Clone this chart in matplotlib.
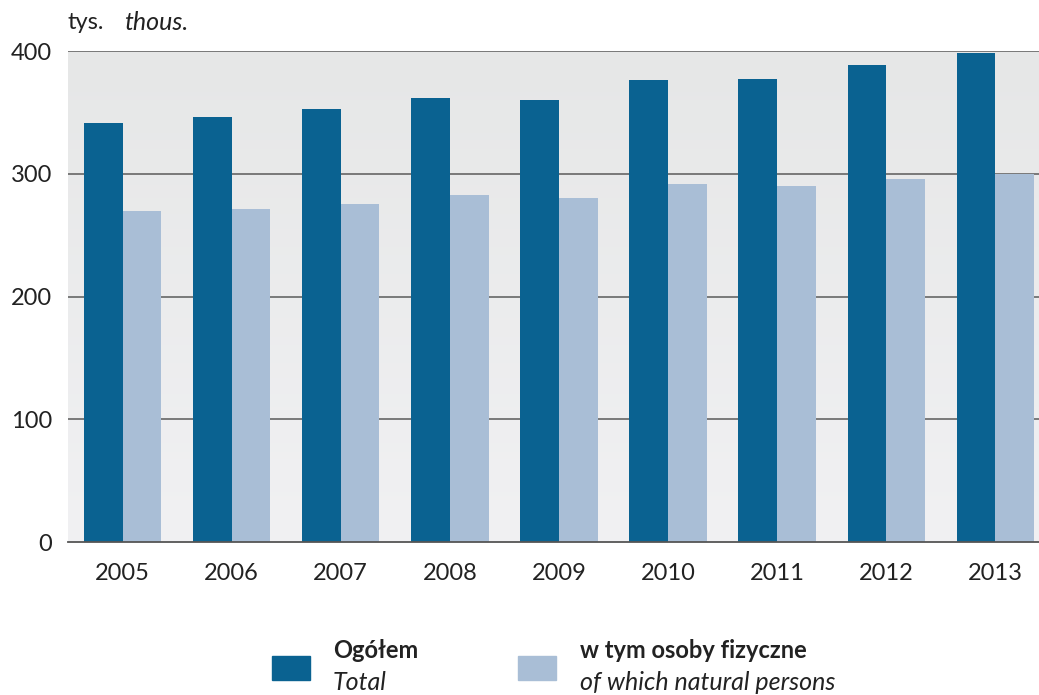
import numpy as np
import matplotlib.pyplot as plt
from matplotlib.patches import Rectangle

plt.rcParams['font.family'] = ['Lato', 'DejaVu Sans']

years = ['2005', '2006', '2007', '2008', '2009', '2010', '2011', '2012', '2013']
total = [341, 346, 353, 362, 360, 376, 377, 389, 398]
natural = [270, 271, 275, 283, 280, 292, 290, 296, 300]

dark = '#0a6291'
light = '#a9bed6'
txt = '#222222'

fig = plt.figure(figsize=(10.39, 6.95), dpi=100)
ax = fig.add_axes([0.0654, 0.2201, 0.9346, 0.7065])

x = np.arange(len(years))
w = 0.355
ax.set_xlim(-0.5, 8.4)
ax.set_ylim(0, 400)

# gradient background
grad = np.linspace(0, 1, 256).reshape(-1, 1)
ax.imshow(grad, extent=(-0.5, 8.4, 0, 400), aspect='auto', origin='lower',
          cmap=plt.matplotlib.colors.LinearSegmentedColormap.from_list('bg', ['#f1f1f3', '#e6e7e7']),
          zorder=0)

for yv in [100, 200, 300, 400]:
    ax.axhline(yv, color='#707070', lw=1.3, zorder=1)

ax.bar(x - w / 2, total, w, color=dark, zorder=2)
ax.bar(x + w / 2, natural, w, color=light, zorder=2)

for s in ['top', 'right', 'left']:
    ax.spines[s].set_visible(False)
ax.spines['bottom'].set_color('#555555')
ax.spines['bottom'].set_linewidth(1.3)

ax.set_xticks(x)
ax.set_xticklabels(years)
ax.set_yticks([0, 100, 200, 300, 400])
ax.tick_params(length=0, labelsize=17, colors=txt)
ax.tick_params(axis='x', pad=15)
ax.tick_params(axis='y', pad=11.5)

fig.text(0.0654, 0.968, 'tys.', fontsize=17, color=txt, va='center')
fig.text(124 / 1039, 0.968, 'thous.', fontsize=18, color=txt, va='center', style='italic')

# legend
fig.add_artist(Rectangle((272 / 1039, 1 - 680 / 695), 38 / 1039, 24 / 695,
                         transform=fig.transFigure, color=dark))
fig.text(333 / 1039, 1 - 651 / 695, 'Ogółem', fontsize=17, weight='bold', color=txt, va='center')
fig.text(333 / 1039, 1 - 683 / 695, 'Total', fontsize=18, style='italic', color=txt, va='center')
fig.add_artist(Rectangle((518 / 1039, 1 - 680 / 695), 38 / 1039, 24 / 695,
                         transform=fig.transFigure, color=light))
fig.text(580 / 1039, 1 - 651 / 695, 'w tym osoby fizyczne', fontsize=17, weight='bold', color=txt, va='center')
fig.text(580 / 1039, 1 - 683 / 695, 'of which natural persons', fontsize=18, style='italic', color=txt, va='center')

fig.savefig('out.png', dpi=100)
